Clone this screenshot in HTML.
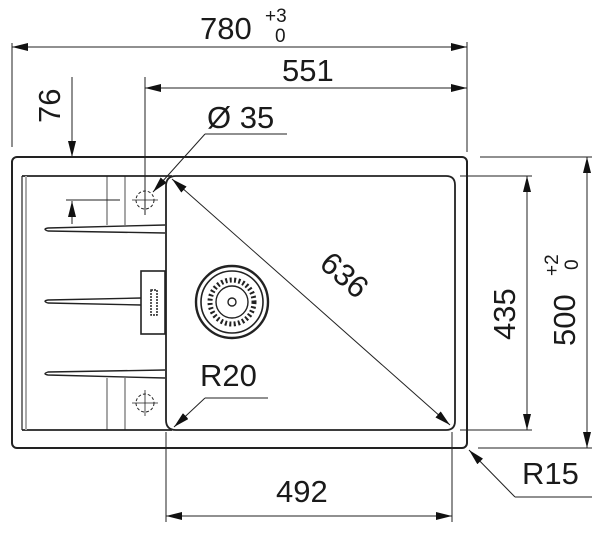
<!DOCTYPE html>
<html><head><meta charset="utf-8"><style>
html,body{margin:0;padding:0;background:#fff;}
svg{display:block;}
text{font-family:"Liberation Sans",sans-serif;fill:#1a1a1a;}
</style></head><body>
<svg width="604" height="538" viewBox="0 0 604 538" xmlns="http://www.w3.org/2000/svg">
<defs>
<marker id="a" viewBox="0 0 16 8" refX="16" refY="4" markerWidth="16" markerHeight="8" markerUnits="userSpaceOnUse" orient="auto"><path d="M0,0 L16,4 L0,8 z" fill="#111"/></marker>
</defs>
<g stroke="#222" fill="none" stroke-width="1">
<line x1="12" y1="43" x2="12" y2="147"/>
<line x1="467" y1="42" x2="467" y2="152"/>
<line x1="145" y1="77" x2="145" y2="215"/>
<line x1="72" y1="77" x2="72" y2="156"/>
<line x1="66" y1="200" x2="120" y2="200"/>
<line x1="72" y1="207" x2="72" y2="224"/>
<line x1="460" y1="176" x2="532" y2="176"/>
<line x1="460" y1="430" x2="532" y2="430"/>
<line x1="480" y1="157" x2="592" y2="157"/>
<line x1="478" y1="448" x2="592" y2="448"/>
<line x1="166" y1="432" x2="166" y2="522"/>
<line x1="452" y1="432" x2="452" y2="522"/>
<line x1="240" y1="47" x2="467" y2="47" marker-end="url(#a)"/>
<line x1="240" y1="47" x2="12" y2="47" marker-end="url(#a)"/>
<line x1="300" y1="88" x2="467" y2="88" marker-end="url(#a)"/>
<line x1="300" y1="88" x2="145" y2="88" marker-end="url(#a)"/>
<line x1="72" y1="140" x2="72" y2="157" marker-end="url(#a)"/>
<line x1="72" y1="222" x2="72" y2="201" marker-end="url(#a)"/>
<line x1="527" y1="300" x2="527" y2="176" marker-end="url(#a)"/>
<line x1="527" y1="300" x2="527" y2="430" marker-end="url(#a)"/>
<line x1="587" y1="300" x2="587" y2="157" marker-end="url(#a)"/>
<line x1="587" y1="300" x2="587" y2="448" marker-end="url(#a)"/>
<line x1="300" y1="516" x2="166" y2="516" marker-end="url(#a)"/>
<line x1="300" y1="516" x2="452" y2="516" marker-end="url(#a)"/>
<line x1="310" y1="301" x2="172" y2="179" marker-end="url(#a)"/>
<line x1="310" y1="301" x2="450" y2="425" marker-end="url(#a)"/>
<line x1="287" y1="134" x2="205" y2="134"/>
<line x1="205" y1="134" x2="153" y2="192" marker-end="url(#a)"/>
<line x1="268" y1="398" x2="205" y2="398"/>
<line x1="205" y1="398" x2="174" y2="427" marker-end="url(#a)"/>
<line x1="592" y1="497" x2="515" y2="497"/>
<line x1="515" y1="497" x2="469" y2="450" marker-end="url(#a)"/>
</g>
<g stroke="#222" fill="none">
<rect x="12" y="157" width="455" height="291" rx="5" stroke-width="2"/>
<line x1="22" y1="176" x2="172" y2="176" stroke-width="1.8"/>
<line x1="22" y1="430" x2="172" y2="430" stroke-width="1.8"/>
<line x1="22" y1="176" x2="22" y2="430" stroke-width="1.2"/>
<line x1="26" y1="176" x2="26" y2="430" stroke="#aaa" stroke-width="2"/>
<path d="M176,176 H446 Q455,176 455,185 V421 Q455,430 446,430 H176 Q166,430 166,420 V186 Q166,176 176,176 Z" stroke-width="1.8"/>
<line x1="107" y1="176" x2="107" y2="225" stroke-width="0.8"/>
<line x1="125" y1="176" x2="125" y2="225" stroke-width="0.8"/>
<line x1="107" y1="378" x2="107" y2="430" stroke-width="0.8"/>
<line x1="125" y1="378" x2="125" y2="430" stroke-width="0.8"/>
<circle cx="145" cy="200" r="9" stroke-dasharray="3,2" stroke-width="1"/>
<line x1="132" y1="200" x2="158" y2="200" stroke-width="0.8"/>
<line x1="145" y1="187" x2="145" y2="213" stroke-width="0.8"/>
<circle cx="145" cy="403" r="9" stroke-dasharray="3,2" stroke-width="1"/>
<line x1="132" y1="403" x2="158" y2="403" stroke-width="0.8"/>
<line x1="145" y1="390" x2="145" y2="416" stroke-width="0.8"/>
<path d="M165,225 L48,228 Q42,229 48,231 L165,233" stroke-width="1.4"/>
<path d="M141,298 L48,300 Q42,301 48,303 L141,305" stroke-width="1.4"/>
<path d="M165,370 L48,372 Q42,374 48,375 L165,378" stroke-width="1.4"/>
<rect x="141" y="271" width="24" height="63" stroke-width="1.6"/>
<rect x="151" y="290" width="6" height="25" stroke-width="1.5" stroke-dasharray="2,1"/>
<circle cx="232" cy="302" r="36" stroke-width="2.4"/>
<circle cx="232" cy="302" r="31" stroke-width="1.6"/>
<circle cx="232" cy="302" r="22" stroke-width="5" stroke-dasharray="2,2.4"/>
<circle cx="232" cy="302" r="16" stroke-width="1.4"/>
<circle cx="232" cy="302" r="4" stroke-width="1.4"/>
</g>
<text x="200" y="39" font-size="31">780</text>
<text x="265" y="22" font-size="19">+3</text>
<text x="275" y="42" font-size="19">0</text>
<text x="282" y="81" font-size="31">551</text>
<text x="207" y="128" font-size="31">Ø 35</text>
<text transform="translate(60,123) rotate(-90)" font-size="31">76</text>
<text transform="translate(318,266) rotate(41)" font-size="31">636</text>
<text x="200" y="386" font-size="31">R20</text>
<text transform="translate(515,340) rotate(-90)" font-size="31">435</text>
<text transform="translate(575,346) rotate(-90)" font-size="31">500</text>
<text transform="translate(558,276) rotate(-90)" font-size="19">+2</text>
<text transform="translate(578,270) rotate(-90)" font-size="19">0</text>
<text x="522" y="484" font-size="31">R15</text>
<text x="276" y="502" font-size="31">492</text>
</svg>
</body></html>
